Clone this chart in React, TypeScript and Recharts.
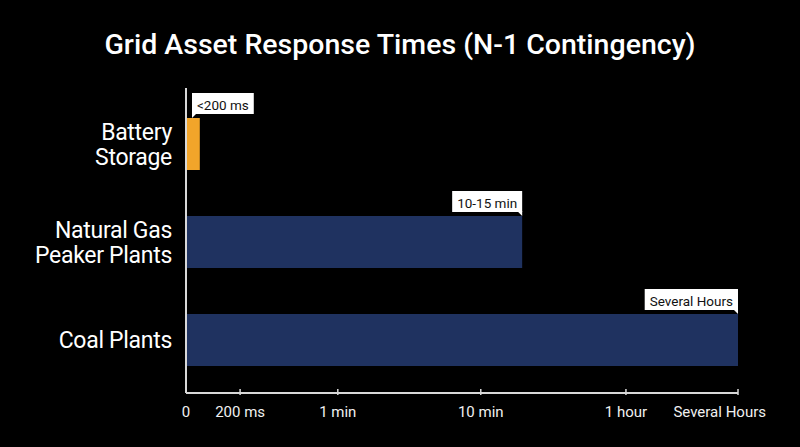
import React from 'react'
import { BarChart, Bar, XAxis, YAxis, Cell, LabelList } from 'recharts'

// categories (split into display lines) and response labels
const assets = ['Battery Storage', 'Natural Gas Peaker Plants', 'Coal Plants']
const assetLines = [['Battery', 'Storage'], ['Natural Gas', 'Peaker Plants'], ['Coal Plants']]
const responseLabels = ['<200 ms', '10-15 min', 'Several Hours']
// position on the (non-linear) time axis, in axis units 0..10
const responseUnits = [0.25, 6.09, 10]
const barColors = ['#f2a52a', '#1f3260', '#1f3260']

// x axis ticks: axis units and their labels
const tickUnits = [0, 0.98, 2.75, 5.34, 7.97, 10]
const tickLabels = ['0', '200 ms', '1 min', '10 min', '1 hour', 'Several Hours']

const data = assets.map((name, i) => ({ name, value: responseUnits[i], label: responseLabels[i] }))

const FONT = 'Roboto, "Noto Sans", sans-serif'

let ctx: CanvasRenderingContext2D | null = null
function textWidth(s: string, font: string) {
  if (!ctx) ctx = document.createElement('canvas').getContext('2d')
  if (!ctx) return s.length * 7
  ctx.font = font
  return ctx.measureText(s).width
}

function AssetTick(props: any) {
  const { x, y, payload } = props
  const lines = assetLines[payload.index] || [payload.value]
  const lh = 25
  const start = y - ((lines.length - 1) * lh) / 2
  return (
    <text x={x - 12} textAnchor="end" fill="#ffffff" fontSize={23} fontFamily={FONT} dominantBaseline="central" letterSpacing={-0.3}>
      {lines.map((l: string, i: number) => (
        <tspan key={i} x={x - 12} y={start + i * lh}>{l}</tspan>
      ))}
    </text>
  )
}

function TimeTick(props: any) {
  const { x, y, payload, index } = props
  const last = index === tickLabels.length - 1
  return (
    <g>
      {index > 0 && <line x1={x} x2={x} y1={y - 6} y2={y} stroke="#d8d8d8" strokeWidth={1.5} />}
      <text
        x={last ? x + 28 : x}
        y={y + 22}
        textAnchor={last ? 'end' : 'middle'}
        fill="#f0f0f0"
        fontSize={15}
        fontFamily={FONT}
      >
        {tickLabels[index] ?? payload.value}
      </text>
    </g>
  )
}

function Callout(props: any) {
  const { x, y, width, value } = props
  const font = `13.5px ${FONT}`
  const w = textWidth(String(value), font) + 10
  const h = 21
  const end = x + width
  const leftAligned = width < w
  const bx = leftAligned ? x + 6 : end - w
  const by = y - 4 - h
  const tail = leftAligned
    ? `M${bx},${by + h - 1} L${bx},${by + h + 4} L${bx + 5},${by + h - 1} Z`
    : `M${bx + w},${by + h - 1} L${bx + w},${by + h + 4} L${bx + w - 5},${by + h - 1} Z`
  return (
    <g>
      <rect x={bx} y={by} width={w} height={h} fill="#ffffff" />
      <path d={tail} fill="#ffffff" />
      <text x={bx + w / 2} y={by + h / 2 + 1} textAnchor="middle" dominantBaseline="central" fill="#111111" fontSize={13.5} fontFamily={FONT}>
        {value}
      </text>
    </g>
  )
}

export default function App() {
  return (
    <div style={{ position: 'fixed', left: 0, top: 0, width: 800, height: 447, background: '#000000', overflow: 'hidden' }}>
      <div style={{ position: 'absolute', top: 28, left: 0, width: 800, textAlign: 'center', color: '#ffffff', fontFamily: FONT, fontSize: 28.5, fontWeight: 500 }}>
        Grid Asset Response Times (N-1 Contingency)
      </div>
      <BarChart
        width={800}
        height={447}
        data={data}
        layout="vertical"
        margin={{ top: 88, right: 62, bottom: 24, left: 0 }}
        barCategoryGap={23}
      >
        <XAxis
          type="number"
          domain={[0, 10]}
          ticks={tickUnits}
          interval={0}
          height={30}
          tickLine={false}
          tickSize={0}
          axisLine={{ stroke: '#d8d8d8', strokeWidth: 2 }}
          tick={<TimeTick />}
          allowDataOverflow
        />
        <YAxis
          type="category"
          dataKey="name"
          width={186}
          tickLine={false}
          tickSize={0}
          padding={{ top: 7, bottom: 4 }}
          axisLine={{ stroke: '#d8d8d8', strokeWidth: 2 }}
          tick={<AssetTick />}
          interval={0}
        />
        <Bar dataKey="value" isAnimationActive={false}>
          {data.map((d, i) => (
            <Cell key={d.name} fill={barColors[i]} />
          ))}
          <LabelList dataKey="label" content={<Callout />} />
        </Bar>
      </BarChart>
    </div>
  )
}
